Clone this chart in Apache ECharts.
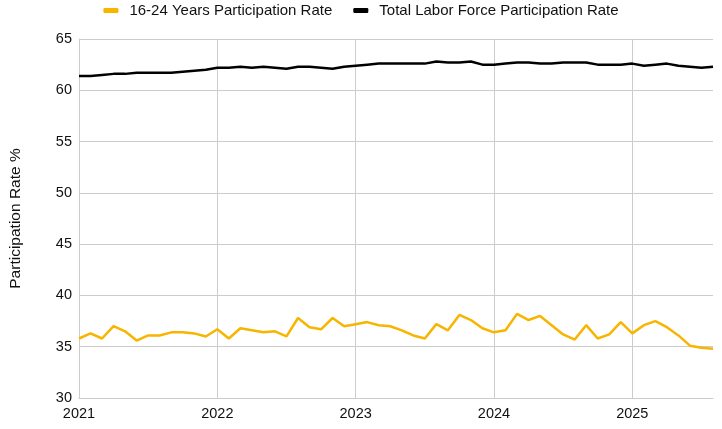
<!DOCTYPE html>
<html>
<head>
<meta charset="utf-8">
<script src="https://cdn.jsdelivr.net/npm/echarts@6/dist/echarts.min.js"></script>
<style>
html,body{margin:0;padding:0;background:#fff;}
#chart{width:722px;height:429px;}
</style>
</head>
<body>
<div id="chart"></div>
<script>
// Monthly, Jan 2021 .. Aug 2025
var years = [2021, 2022, 2023, 2024, 2025];
var months = [];
for (var y = 2021; y <= 2025; y++) {
  for (var m = 1; m <= 12; m++) {
    if (y === 2025 && m > 8) break;
    months.push(y + '-' + (m < 10 ? '0' + m : m));
  }
}
var youthRate = [35.8,36.3,35.8,37.0,36.5,35.6,36.1,36.1,36.4,36.4,36.3,36.0,
  36.7,35.8,36.8,36.6,36.4,36.5,36.0,37.8,36.9,36.7,37.8,37.0,
  37.2,37.4,37.1,37.0,36.6,36.1,35.8,37.2,36.6,38.1,37.6,36.8,
  36.4,36.6,38.2,37.6,38.0,37.1,36.2,35.7,37.1,35.8,36.2,37.4,
  36.3,37.1,37.5,36.9,36.1,35.1,34.9,34.8];
var totalRate = [61.4,61.4,61.5,61.6,61.6,61.7,61.7,61.7,61.7,61.8,61.9,62.0,
  62.2,62.2,62.3,62.2,62.3,62.2,62.1,62.3,62.3,62.2,62.1,62.3,
  62.4,62.5,62.6,62.6,62.6,62.6,62.6,62.8,62.7,62.7,62.8,62.5,
  62.5,62.6,62.7,62.7,62.6,62.6,62.7,62.7,62.7,62.5,62.5,62.5,
  62.6,62.4,62.5,62.6,62.4,62.3,62.2,62.3];
var seriesNames = ['16-24 Years Participation Rate', 'Total Labor Force Participation Rate'];

var isJan = function (idx) { return idx % 12 === 0; };
var chart = echarts.init(document.getElementById('chart'));
var font = 'Liberation Sans, Arial, Helvetica, sans-serif';
chart.setOption({
  animation: false,
  textStyle: { fontFamily: font },
  legend: {
    top: -2,
    left: 'center',
    itemWidth: 15,
    itemHeight: 5,
    itemGap: 21,
    icon: 'roundRect',
    textStyle: { fontSize: 15, color: '#111', fontFamily: font, padding: [0, 0, 0, 6] },
    data: seriesNames
  },
  grid: { left: 77, right: 9, top: 39, bottom: 31 },
  xAxis: {
    type: 'category',
    data: months,
    boundaryGap: false,
    axisLine: { show: true, lineStyle: { color: '#ccc' } },
    axisTick: { show: false },
    axisLabel: {
      interval: function (idx) { return isJan(idx); },
      formatter: function (v) { return v.slice(0, 4); },
      fontSize: 14.5, color: '#111', margin: 8, fontFamily: font
    },
    splitLine: { show: true, interval: function (idx) { return isJan(idx); }, lineStyle: { color: '#ccc', width: 1 } }
  },
  yAxis: {
    type: 'value',
    min: 30, max: 65, interval: 5,
    name: 'Participation Rate %',
    nameLocation: 'middle',
    nameGap: 55,
    nameTextStyle: { fontSize: 15.5, color: '#111', fontFamily: font },
    axisLine: { show: true, lineStyle: { color: '#ccc' } },
    axisTick: { show: false },
    axisLabel: { fontSize: 14.5, color: '#111', margin: 7, fontFamily: font },
    splitLine: { lineStyle: { color: '#ccc', width: 1 } }
  },
  series: [
    {
      name: seriesNames[0], type: 'line', data: youthRate,
      showSymbol: false, symbol: 'none',
      lineStyle: { color: '#F7B500', width: 2.5 },
      itemStyle: { color: '#F7B500' }
    },
    {
      name: seriesNames[1], type: 'line', data: totalRate,
      showSymbol: false, symbol: 'none',
      lineStyle: { color: '#000', width: 2.5 },
      itemStyle: { color: '#000' }
    }
  ]
});
</script>
</body>
</html>
